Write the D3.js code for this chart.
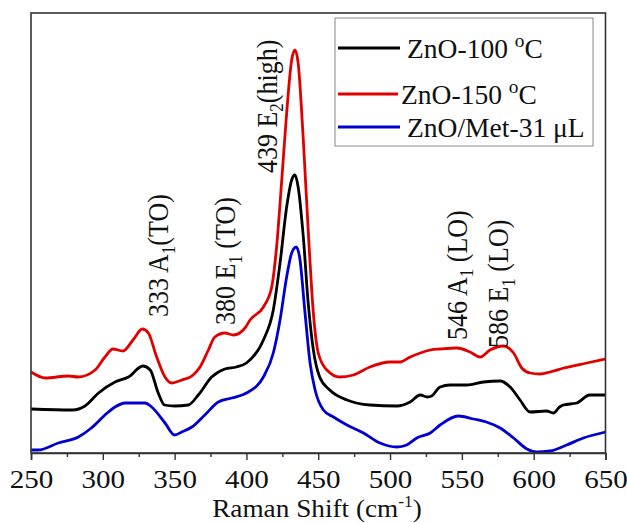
<!DOCTYPE html>
<html><head><meta charset="utf-8">
<script src="https://cdn.jsdelivr.net/npm/d3@7"></script>
<style>
body{margin:0;background:#fff}
svg{display:block}
svg text, svg tspan{font-family:'Liberation Serif','Times New Roman',Times,serif;fill:#111}
</style>
</head><body>
<svg id="c" width="627" height="523"></svg>
<script>
// Raman shift (cm-1), intensity (a.u.)
const zno100 = [[250,44],[279,43],[287.6,47],[297,60],[308.5,71],[317.8,76],[328,87],[333,83],[338.6,60],[343,48],[350,47],[359.5,48],[366.5,58],[375.8,76],[385,84],[393,86],[400,90],[411.8,113],[418.7,143],[423.4,190],[428,246],[431.5,273],[433.8,278],[436,266],[439.6,216],[443,150],[446.6,103],[451,76],[458,63],[470,53],[486,48],[504.7,47],[514,51],[521,58],[526,56],[529,57],[534.8,66],[541.8,68],[553.4,68],[565,71],[576.6,72],[583.6,66],[590.5,53],[597.5,41],[609,42],[613.7,40],[618,46],[620.6,48],[630,50],[639,58],[650,58]];
const zno150 = [[250,81],[260,75],[276,77],[283,76],[294.6,83],[301.5,96],[307,104],[314,102],[321,113],[327.5,124],[331.7,120],[337.5,96],[343.3,76],[348,70],[355,73],[362,77],[367.7,86],[373.5,103],[378,116],[385,120],[391,118],[399,125],[402.5,133],[411.8,146],[417.6,166],[421,206],[424.6,273],[428,340],[431.5,393],[433.8,403],[436,390],[439.6,313],[443,223],[446.6,140],[450,100],[456,83],[465,76],[474.4,78],[486,86],[500,91],[507,91],[514,96],[521,100],[528,103],[535,104],[546.5,105],[555.7,101],[562.7,96],[569.6,103],[579,107],[586,100],[591.7,85],[597.5,80],[604.5,79],[611.4,81],[621,85],[637,90],[650,94]];
const znoMet = [[250,3],[255,3],[269,10],[283,16],[292,25],[301.5,38],[308.5,46],[315.5,50],[329.4,50],[334,46],[343.3,30],[350,18],[355,21],[362,26],[371,38],[380.4,51],[389.8,55],[400,60],[411.8,76],[418.7,100],[423.4,133],[428,176],[431.5,200],[434.7,206],[437,196],[440.8,140],[444.3,90],[447.8,63],[453.6,43],[460.6,36],[470,28],[481.5,20],[493,10],[504.7,6],[511.6,8],[518.6,15],[528,20],[534.8,28],[547.6,37],[558,34],[567,31],[576.6,25],[586,15],[595.3,4],[602,1],[611.4,2],[623,8],[634.6,15],[650,21]];

const seriesData = [zno100, zno150, znoMet];
const seriesColors = ["#000000", "#e00000", "#0000d0"];
// legend labels: [main, superscript, tail]
const legendLabels = [["ZnO-100 ", "o", "C"], ["ZnO-150 ", "o", "C"], ["ZnO/Met-31 \u03bcL", "", ""]];

const xTicks = [250, 300, 350, 400, 450, 500, 550, 600, 650];
const xMinorTicks = [275, 325, 375, 425, 475, 525, 575, 625];

// peak labels: [main, subscript, tail], anchor (shift, intensity)
const peakLabels = [["333 A", "1", "(TO)"], ["380 E", "1", " (TO)"], ["439 E", "2", "(high)"], ["546 A", "1", " (LO)"], ["586 E", "1", " (LO)"]];
const peakAnchors = [[345.4, 136], [392.1, 128], [421.1, 280], [553.4, 113], [582.2, 105]];

const FONT = "'Liberation Serif','Times New Roman',Times,serif";
const svg = d3.select("#c");
const L = 31, R = 605.5, T = 13, B = 453;
const x = d3.scaleLinear().domain([250, 650]).range([L, R]);
const y = d3.scaleLinear().domain([0, 440]).range([B, T]);

svg.append("rect").attr("width", 627).attr("height", 523).attr("fill", "#fff");

// curves
const line = d3.line().x(d => x(d[0])).y(d => y(d[1])).curve(d3.curveMonotoneX);
[1, 0, 2].forEach(i => {
  svg.append("path").datum(seriesData[i]).attr("d", line)
    .attr("fill", "none").attr("stroke", seriesColors[i]).attr("stroke-width", 2.8)
    .attr("stroke-linejoin", "round");
});

// frame
svg.append("rect").attr("x", L).attr("y", T).attr("width", R - L).attr("height", B - T)
  .attr("fill", "none").attr("stroke", "#333").attr("stroke-width", 1.6);

// x axis
const gx = svg.append("g").attr("transform", `translate(0,${B})`)
  .call(d3.axisBottom(x).tickValues(xTicks).tickSize(7).tickFormat(d3.format("d")));
gx.attr("font-family", null);
gx.select(".domain").attr("stroke", "#333").attr("stroke-width", 1.6);
gx.selectAll(".tick line").attr("stroke", "#333").attr("stroke-width", 1.4);
gx.selectAll(".tick text").attr("y", 35).attr("dy", 0).attr("font-size", 26)
  .attr("transform", "scale(1.12,1)").attr("fill", "#111")
  .style("font-family", FONT);
const gm = svg.append("g").attr("transform", `translate(0,${B})`)
  .call(d3.axisBottom(x).tickValues(xMinorTicks).tickSize(4).tickFormat(""));
gm.select(".domain").remove();
gm.selectAll(".tick line").attr("stroke", "#333").attr("stroke-width", 1.4);

// axis title
const title = svg.append("text").attr("transform", "translate(317,517) scale(1.09,1)")
  .attr("text-anchor", "middle").attr("font-size", 25).style("font-family", FONT);
title.append("tspan").text("Raman Shift (cm");
title.append("tspan").attr("dy", -10).attr("font-size", 16).text("-1");
title.append("tspan").attr("dy", 10).text(")");

// peak annotations
peakLabels.forEach((p, i) => {
  const a = peakAnchors[i];
  const t = svg.append("text")
    .attr("transform", `translate(${x(a[0])},${y(a[1])}) scale(1.12,1) rotate(-90)`)
    .attr("font-size", 26).style("font-family", FONT);
  t.append("tspan").text(p[0]);
  t.append("tspan").attr("dy", 6).attr("font-size", 17).text(p[1]);
  t.append("tspan").attr("dy", -6).text(p[2]);
});

// legend
const lg = svg.append("g");
lg.append("rect").attr("x", 335).attr("y", 18).attr("width", 258).attr("height", 128)
  .attr("fill", "#fff").attr("stroke", "#888").attr("stroke-width", 1);
const legY = [48, 94, 127];
const legLineEnd = [400, 398, 400];
const legTextX = [407, 401, 407];
legendLabels.forEach((lab, i) => {
  lg.append("line").attr("x1", 338).attr("x2", legLineEnd[i]).attr("y1", legY[i]).attr("y2", legY[i])
    .attr("stroke", seriesColors[i]).attr("stroke-width", 3);
  const t = lg.append("text").attr("transform", `translate(${legTextX[i]},${legY[i] + 9.5}) scale(1.02,1)`)
    .attr("font-size", 27).style("font-family", FONT);
  t.append("tspan").text(lab[0]);
  if (lab[1]) {
    t.append("tspan").attr("dy", -11).attr("font-size", 19).text(lab[1]);
    t.append("tspan").attr("dy", 11).text(lab[2]);
  }
});
</script>
</body></html>
